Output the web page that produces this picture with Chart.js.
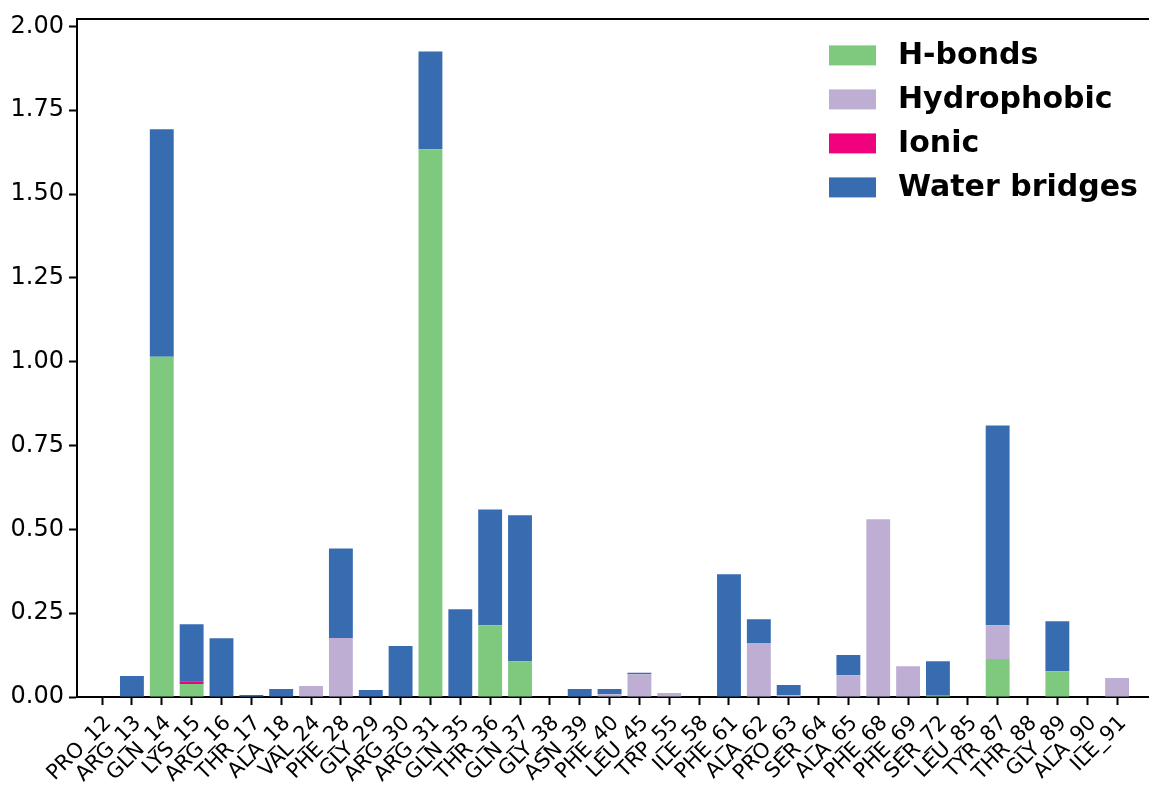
<!DOCTYPE html>
<html>
<head>
<meta charset="utf-8">
<script src="https://cdn.jsdelivr.net/npm/chart.js@4.4.0/dist/chart.umd.min.js"></script>
<style>
  body { margin: 0; background: #fff; }
  canvas { display: block; }
</style>
</head>
<body>
<canvas id="myChart" width="1149" height="786"></canvas>
<script>
const residues = ['PRO_12','ARG_13','GLN_14','LYS_15','ARG_16','THR_17','ALA_18','VAL_24','PHE_28','GLY_29','ARG_30','ARG_31','GLN_35','THR_36','GLN_37','GLY_38','ASN_39','PHE_40','LEU_45','TRP_55','ILE_58','PHE_61','ALA_62','PRO_63','SER_64','ALA_65','PHE_68','PHE_69','SER_72','LEU_85','TYR_87','THR_88','GLY_89','ALA_90','ILE_91']

const hBonds      = [0,0,1.015,0.039,0,0,0,0,0,0,0,1.634,0,0.214,0.107,0,0,0,0,0,0,0,0,0,0,0,0,0,0.004,0,0.113,0,0.077,0,0]
const hydrophobic = [0,0,0,0,0,0,0,0.033,0.176,0,0,0,0,0,0,0,0,0.008,0.068,0.012,0,0,0.161,0.005,0,0.065,0.53,0.092,0,0,0.101,0,0,0,0.057]
const ionic       = [0,0,0,0.008,0,0,0,0,0,0,0,0,0,0,0,0,0,0,0,0,0,0,0,0,0,0,0,0,0,0,0,0,0,0,0]
const waterBridges= [0,0.063,0.678,0.170,0.175,0.006,0.024,0,0.267,0.021,0.152,0.291,0.262,0.345,0.435,0,0.024,0.016,0.004,0,0,0.366,0.071,0.031,0,0.06,0,0,0.103,0,0.596,0,0.149,0,0]

const yTicks = [0, 0.25, 0.5, 0.75, 1.0, 1.25, 1.5, 1.75, 2.0]

const seriesNames = ['H-bonds','Hydrophobic','Ionic','Water bridges']
const seriesColors = ['#7fc97f','#beaed4','#f0027f','#386cb0']

let toPoints = values => values.map((v, i) => ({x: i, y: v}))

let datasets = [hBonds, hydrophobic, ionic, waterBridges].map((values, k) => ({
    label: seriesNames[k],
    data: toPoints(values),
    backgroundColor: seriesColors[k],
    borderWidth: 0,
    categoryPercentage: 1,
    barPercentage: 0.8
}))

// legend sits inside the plot, top right, like the original figure
let insideLegend = {
    id: 'insideLegend',
    afterDraw: chart => {
        const ctx = chart.ctx
        const area = chart.chartArea
        ctx.save()
        ctx.font = 'bold 30px "DejaVu Sans"'
        ctx.textBaseline = 'middle'
        ctx.textAlign = 'left'
        chart.data.datasets.forEach((ds, i) => {
            const top = area.top + 26 + i * 44
            ctx.fillStyle = ds.backgroundColor
            ctx.fillRect(area.right - 320, top, 47, 20)
            ctx.fillStyle = '#000'
            ctx.fillText(ds.label, area.right - 251, top + 11)
        })
        ctx.restore()
    }
}

let chart = new Chart('myChart', {
    type: 'bar',
    data: { datasets: datasets },
    plugins: [insideLegend],
    options: {
        responsive: false,
        animation: false,
        devicePixelRatio: 1,
        layout: { padding: { top: 17, right: 0, left: 0, bottom: 0 } },
        plugins: {
            tooltip: { enabled: false },
            legend: { display: false }
        },
        scales: {
            x: {
                type: 'linear',
                stacked: true,
                offset: false,
                min: -0.84,
                max: 35.07,
                afterFit: s => { s.height = 89 },
                afterBuildTicks: s => { s.ticks = residues.map((_, i) => ({value: i})) },
                border: { display: true, color: '#000', width: 2 },
                grid: { offset: false, drawOnChartArea: false, drawTicks: true, tickLength: 8, tickWidth: 2, tickColor: '#000' },
                ticks: {
                    autoSkip: false,
                    minRotation: 45,
                    maxRotation: 45,
                    padding: 6,
                    labelOffset: 6,
                    color: '#000',
                    font: { family: 'DejaVu Sans', size: 21 },
                    callback: v => residues[v] ?? ''
                }
            },
            xTop: {
                type: 'linear',
                position: 'top',
                min: -0.84,
                max: 35.07,
                afterFit: s => { s.height = 0 },
                border: { display: true, color: '#000', width: 2 },
                grid: { display: false },
                ticks: { display: false }
            },
            y: {
                stacked: true,
                min: 0,
                max: 2.021,
                afterFit: s => { s.width = 77 },
                afterBuildTicks: s => { s.ticks = yTicks.map(v => ({value: v})) },
                border: { display: true, color: '#000', width: 2 },
                grid: { drawOnChartArea: false, drawTicks: true, tickLength: 8, tickWidth: 2, tickColor: '#000' },
                ticks: {
                    padding: 5,
                    color: '#000',
                    font: { family: 'DejaVu Sans', size: 24 },
                    callback: v => v.toFixed(2)
                }
            }
        }
    }
})
</script>
</body>
</html>
